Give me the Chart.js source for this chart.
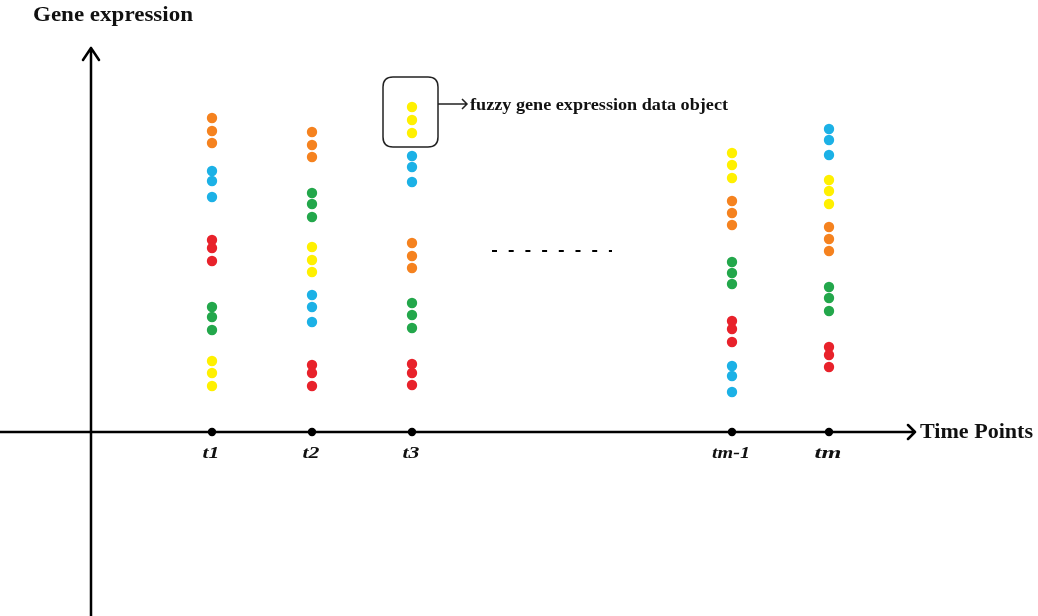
<!DOCTYPE html>
<html>
<head>
<meta charset="utf-8">
<script src="https://cdn.jsdelivr.net/npm/chart.js@4.4.0/dist/chart.umd.min.js"></script>
<style>
  html, body { margin: 0; padding: 0; background: #fff; }
  canvas { display: block; }
</style>
</head>
<body>
<canvas id="geneChart" width="1038" height="616"></canvas>
<script>
// --- data ---
// time points on the x axis (the jump between t3 and tm-1 is the "- - -" part)
const timeLabels = ['t1', 't2', 't3', 'tm-1', 'tm'];
const timePos = [1, 2, 3, 6.2, 7.17];

// three expression values per time point for every colour group
const orangeVals = [[31.4, 30.1, 28.9], [30.0, 28.7, 27.5], [18.9, 17.6, 16.4], [23.1, 21.9, 20.7], [20.5, 19.3, 18.1]];
const blueVals   = [[26.1, 25.1, 23.5], [13.7, 12.5, 11.0], [27.6, 26.5, 25.0], [6.6, 5.6, 4.0],    [30.3, 29.2, 27.7]];
const redVals    = [[19.2, 18.4, 17.1], [6.7, 5.9, 4.6],    [6.8, 5.9, 4.7],    [11.1, 10.3, 9.0],  [8.5, 7.7, 6.5]];
const greenVals  = [[12.5, 11.5, 10.2], [23.9, 22.8, 21.5], [12.9, 11.7, 10.4], [17.0, 15.9, 14.8], [14.5, 13.4, 12.1]];
const yellowVals = [[7.1, 5.9, 4.6],    [18.5, 17.2, 16.0], [32.5, 31.2, 29.9], [27.9, 26.7, 25.4], [25.2, 24.1, 22.8]];

const COLORS = {
  orange: '#f5821f', blue: '#1cb1e6', red: '#e8222b', green: '#23a74b', yellow: '#fff000'
};

// y axis sits a bit left of t1, x axis at expression 0
const ORIGIN_X = -0.21;

function toPoints(vals) {
  const pts = [];
  vals.forEach((group, i) => {
    group.forEach(v => pts.push({ x: timePos[i], y: v }));
  });
  return pts;
}

function dotSet(label, vals, color) {
  return {
    label: label,
    data: toPoints(vals),
    backgroundColor: color,
    borderWidth: 0,
    pointRadius: 5.2,
    pointHoverRadius: 5.2
  };
}

// stretched text helper (the source font is drawn a bit wide)
function wideText(ctx, text, x, y, font, width, align) {
  ctx.save();
  ctx.font = font;
  const w = ctx.measureText(text).width;
  const s = width / w;
  ctx.translate(x, y);
  ctx.scale(s, 1);
  ctx.textAlign = align || 'left';
  ctx.fillText(text, 0, 0);
  ctx.restore();
}

const diagramPlugin = {
  id: 'diagram',
  beforeDatasetsDraw(chart) {
    const ctx = chart.ctx;
    const xs = chart.scales.x, ys = chart.scales.y;
    const ox = xs.getPixelForValue(ORIGIN_X);
    const oy = ys.getPixelForValue(0);

    ctx.save();
    ctx.strokeStyle = '#000';
    ctx.lineWidth = 2.5;
    ctx.lineCap = 'round';
    ctx.lineJoin = 'round';

    // y axis with open arrow head
    const yTop = 48;
    ctx.beginPath();
    ctx.moveTo(ox, chart.height);
    ctx.lineTo(ox, yTop);
    ctx.moveTo(ox - 8, yTop + 12);
    ctx.lineTo(ox, yTop);
    ctx.lineTo(ox + 8, yTop + 12);
    ctx.stroke();

    // x axis
    const xEnd = 915;
    ctx.beginPath();
    ctx.moveTo(0, oy);
    ctx.lineTo(xEnd, oy);
    ctx.moveTo(xEnd - 7, oy - 7);
    ctx.lineTo(xEnd, oy);
    ctx.lineTo(xEnd - 7, oy + 7);
    ctx.stroke();

    // dashes between t3 and tm-1
    ctx.lineWidth = 2;
    ctx.lineCap = 'butt';
    ctx.setLineDash([5, 11.7]);
    const dy = ys.getPixelForValue(18.1);
    ctx.beginPath();
    ctx.moveTo(xs.getPixelForValue(3.8), dy);
    ctx.lineTo(xs.getPixelForValue(5.0), dy);
    ctx.stroke();
    ctx.setLineDash([]);
    ctx.restore();
  },
  afterDatasetsDraw(chart) {
    const ctx = chart.ctx;
    const xs = chart.scales.x, ys = chart.scales.y;
    const oy = ys.getPixelForValue(0);

    ctx.save();
    ctx.fillStyle = '#111';
    ctx.textBaseline = 'alphabetic';

    // axis titles
    wideText(ctx, 'Gene expression', 33, 21, 'bold 20px "Liberation Serif"', 160);
    ctx.textBaseline = 'middle';
    wideText(ctx, 'Time Points', 920, oy + 1, 'bold 20px "Liberation Serif"', 113);

    // time labels
    ctx.textBaseline = 'alphabetic';
    timeLabels.forEach((t, i) => {
      const px = xs.getPixelForValue(timePos[i]);
      const w = t.length > 2 ? 38 : (t === 'tm' ? 27 : 17);
      wideText(ctx, t, px - 1, oy + 26, 'italic bold 17px "Liberation Serif"', w, 'center');
    });

    // callout box around one yellow group at t3
    const bx = xs.getPixelForValue(timePos[2]);
    const top = ys.getPixelForValue(yellowVals[2][0]);
    const bot = ys.getPixelForValue(yellowVals[2][2]);
    const L = bx - 29, R = bx + 26, T = top - 30, B = bot + 14, r = 10;
    ctx.strokeStyle = '#222';
    ctx.lineWidth = 1.5;
    ctx.beginPath();
    ctx.moveTo(L + r, T);
    ctx.lineTo(R - r, T);
    ctx.quadraticCurveTo(R, T, R, T + r);
    ctx.lineTo(R, B - r);
    ctx.quadraticCurveTo(R, B, R - r, B);
    ctx.lineTo(L + r, B);
    ctx.quadraticCurveTo(L, B, L, B - r);
    ctx.lineTo(L, T + r);
    ctx.quadraticCurveTo(L, T, L + r, T);
    ctx.stroke();

    // pointer arrow + text
    const ay = top - 3;
    const ax2 = R + 29;
    ctx.beginPath();
    ctx.moveTo(R, ay);
    ctx.lineTo(ax2, ay);
    ctx.moveTo(ax2 - 5, ay - 5);
    ctx.lineTo(ax2, ay);
    ctx.lineTo(ax2 - 5, ay + 5);
    ctx.stroke();

    ctx.textBaseline = 'middle';
    wideText(ctx, 'fuzzy gene expression data object', ax2 + 3, ay + 2, 'bold 17px "Liberation Serif"', 258);
    ctx.restore();
  }
};

new Chart(document.getElementById('geneChart'), {
  type: 'scatter',
  data: {
    datasets: [
      dotSet('orange', orangeVals, COLORS.orange),
      dotSet('blue', blueVals, COLORS.blue),
      dotSet('red', redVals, COLORS.red),
      dotSet('green', greenVals, COLORS.green),
      dotSet('yellow', yellowVals, COLORS.yellow),
      {
        label: 'time ticks',
        data: timePos.map(p => ({ x: p, y: 0 })),
        backgroundColor: '#000',
        borderWidth: 0,
        pointRadius: 4.2
      }
    ]
  },
  options: {
    responsive: false,
    animation: false,
    devicePixelRatio: 1,
    layout: { padding: 0, autoPadding: false },
    clip: false,
    plugins: { legend: { display: false }, tooltip: { enabled: false } },
    scales: {
      x: { type: 'linear', display: false, min: -1.12, max: 9.26 },
      y: { type: 'linear', display: false, min: -18.4, max: 43.2 }
    }
  },
  plugins: [diagramPlugin]
});
</script>
</body>
</html>
